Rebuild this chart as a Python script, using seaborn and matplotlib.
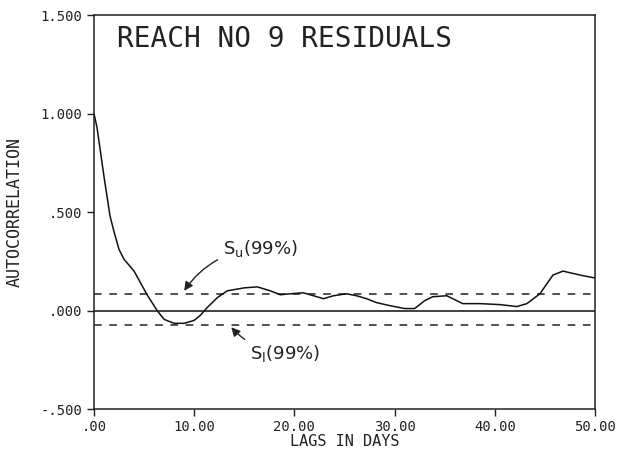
import pandas as pd
import matplotlib.pyplot as plt
import seaborn as sns

# autocorrelation of reach 9 residuals
lags = [0.0, 0.3, 1.0, 1.6, 2.0, 2.5, 3.0, 4.0, 5.3, 6.3, 7.0, 8.0, 9.0, 10.0,
        10.6, 11.3, 12.3, 13.3, 15.0, 16.3, 17.6, 18.6, 19.6, 20.9, 21.9, 22.9,
        23.9, 25.2, 26.2, 27.2, 28.2, 29.5, 31.0, 32.0, 33.0, 33.8, 35.2, 36.8,
        38.5, 40.5, 42.2, 43.2, 44.5, 45.8, 46.8, 48.5, 50.0]
acf = [1.00, 0.93, 0.68, 0.48, 0.40, 0.31, 0.26, 0.20, 0.08, 0.00, -0.045,
       -0.065, -0.065, -0.05, -0.025, 0.015, 0.065, 0.10, 0.115, 0.12, 0.10,
       0.08, 0.085, 0.09, 0.075, 0.06, 0.075, 0.085, 0.075, 0.06, 0.04, 0.025,
       0.01, 0.01, 0.05, 0.07, 0.075, 0.035, 0.035, 0.03, 0.02, 0.035, 0.085,
       0.18, 0.20, 0.18, 0.165]
upper_limit = 0.085
lower_limit = -0.075
xticks = [0, 10, 20, 30, 40, 50]
xticklabels = ['.00', '10.00', '20.00', '30.00', '40.00', '50.00']
yticks = [-0.5, 0.0, 0.5, 1.0, 1.5]
yticklabels = ['-.500', '.000', '.500', '1.000', '1.500']

df = pd.DataFrame({'lag': lags, 'acf': acf})

sns.set_style('ticks')
plt.rcParams['font.family'] = ['DejaVu Sans Mono', 'DejaVu Sans']

fig = plt.figure(figsize=(6.24, 4.59), dpi=100)
ax = fig.add_axes([0.1506, 0.1089, 0.803, 0.8584])

ax.axhline(0.0, color='#333333', lw=1.3)
ax.axhline(upper_limit, color='#222222', lw=1.1, ls=(0, (5, 5)))
ax.axhline(lower_limit, color='#222222', lw=1.1, ls=(0, (5, 5)))
sns.lineplot(data=df, x='lag', y='acf', color='#111111', lw=1.1, ax=ax)

ax.set_xlim(0, 50)
ax.set_ylim(-0.5, 1.5)
ax.set_xticks(xticks)
ax.set_xticklabels(xticklabels, fontsize=10)
ax.set_yticks(yticks)
ax.set_yticklabels(yticklabels, fontsize=10)
ax.tick_params(length=5, width=1, color='#222222', labelcolor='#222222')
ax.tick_params(axis='x', pad=3)
for s in ax.spines.values():
    s.set_linewidth(1.1)
    s.set_color('#222222')

ax.set_xlabel('LAGS IN DAYS', fontsize=11, color='#222222', labelpad=0)
ax.set_ylabel('AUTOCORRELATION', fontsize=12, color='#222222', labelpad=12)

ax.text(0.045, 0.975, 'REACH NO 9 RESIDUALS', transform=ax.transAxes,
        fontsize=20, ha='left', va='top', color='#222222')

ax.annotate(r'$\mathrm{S_u}$(99%)', xy=(9.0, 0.10), xytext=(12.9, 0.315),
            fontsize=13, family='DejaVu Sans', ha='left', va='center',
            color='#222222',
            arrowprops=dict(arrowstyle='-|>', color='#222222', lw=1,
                            shrinkA=2, shrinkB=0,
                            connectionstyle='arc3,rad=0.25'))
ax.annotate(r'$\mathrm{S_l}$(99%)', xy=(13.7, -0.085), xytext=(15.6, -0.22),
            fontsize=13, family='DejaVu Sans', ha='left', va='center',
            color='#222222',
            arrowprops=dict(arrowstyle='-|>', color='#222222', lw=1,
                            shrinkA=2, shrinkB=0,
                            connectionstyle='arc3,rad=-0.2'))

fig.savefig('out.png', dpi=100)
